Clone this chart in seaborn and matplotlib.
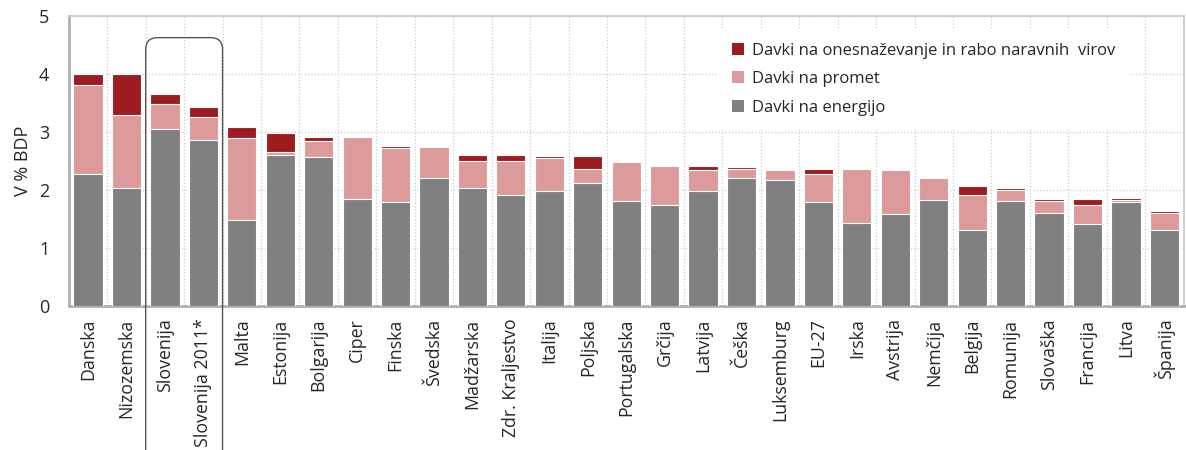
import numpy as np
import pandas as pd
import matplotlib.pyplot as plt
import seaborn as sns
from matplotlib.patches import FancyBboxPatch, Patch
from matplotlib.transforms import IdentityTransform

# data (% of GDP)
countries = ['Danska', 'Nizozemska', 'Slovenija', 'Slovenija 2011*', 'Malta', 'Estonija',
             'Bolgarija', 'Ciper', 'Finska', 'Švedska', 'Madžarska', 'Zdr. Kraljestvo',
             'Italija', 'Poljska', 'Portugalska', 'Grčija', 'Latvija', 'Češka', 'Luksemburg',
             'EU-27', 'Irska', 'Avstrija', 'Nemčija', 'Belgija', 'Romunija', 'Slovaška',
             'Francija', 'Litva', 'Španija']
energija = [2.27, 2.04, 3.06, 2.86, 1.49, 2.61, 2.57, 1.84, 1.79, 2.21, 2.04, 1.91,
            1.99, 2.13, 1.82, 1.74, 1.99, 2.21, 2.18, 1.79, 1.44, 1.59, 1.83, 1.31,
            1.82, 1.61, 1.42, 1.79, 1.31]
promet = [1.54, 1.25, 0.42, 0.40, 1.41, 0.05, 0.27, 1.07, 0.93, 0.53, 0.47, 0.60,
          0.57, 0.24, 0.67, 0.68, 0.35, 0.16, 0.16, 0.48, 0.93, 0.75, 0.38, 0.61,
          0.19, 0.21, 0.32, 0.04, 0.30]
onesnazevanje = [0.20, 0.72, 0.18, 0.18, 0.18, 0.33, 0.07, 0.00, 0.04, 0.02, 0.10, 0.10,
                 0.03, 0.22, 0.00, 0.00, 0.08, 0.02, 0.03, 0.10, 0.00, 0.03, 0.00, 0.15,
                 0.03, 0.02, 0.10, 0.03, 0.03]

labels = ['Davki na onesnaževanje in rabo naravnih  virov', 'Davki na promet', 'Davki na energijo']
colors = ['#9c1c20', '#dc9a9a', '#808080']

df = pd.DataFrame({'drzava': countries, 'energija': energija,
                   'promet': promet, 'onesn': onesnazevanje})
df['s_promet'] = df['energija'] + df['promet']
df['s_total'] = df['s_promet'] + df['onesn']

sns.set_style('white')
plt.rcParams['font.family'] = ['Open Sans', 'DejaVu Sans']

fig = plt.figure(figsize=(11.86, 4.5), dpi=100)
ax = fig.add_axes([0.058, 0.32, 0.94, 0.644])

# stacked bars by overdrawing cumulative heights
for col, c in zip(['s_total', 's_promet', 'energija'], colors):
    sns.barplot(data=df, x='drzava', y=col, color=c, width=0.76,
                edgecolor='white', linewidth=0.8, saturation=1, ax=ax, zorder=3)

ax.set_xlim(-0.5, len(countries) - 0.5)
ax.set_ylim(0, 5)
ax.set_yticks([0, 1, 2, 3, 4, 5])
ax.tick_params(axis='y', labelsize=13, length=0, pad=14)
ax.tick_params(axis='x', labelsize=12.8, length=0, rotation=90, pad=9)
ax.set_xlabel('')
ax.set_ylabel('V % BDP', fontsize=13, labelpad=5)

ax.set_xticks(np.arange(len(countries)) + 0.5, minor=True)
ax.tick_params(axis='x', which='minor', length=0)
ax.grid(False)
ax.grid(True, axis='y', which='major', ls=':', color='#cccccc', lw=0.9, zorder=0)
ax.grid(True, axis='x', which='minor', ls=':', color='#cccccc', lw=0.9, zorder=0)
ax.set_axisbelow(True)

for s in ax.spines.values():
    s.set_color('#c8c8c8')
    s.set_linewidth(1.2)
ax.spines['bottom'].set_color('#b0b0b0')
ax.spines['bottom'].set_linewidth(2)
ax.spines['left'].set_color('#b0b0b0')
ax.spines['left'].set_linewidth(2)

handles = [Patch(facecolor=c, edgecolor='none') for c in colors]
leg = ax.legend(handles, labels, loc='upper right', bbox_to_anchor=(0.951, 0.955),
                borderaxespad=0, frameon=True, facecolor='white', edgecolor='white',
                framealpha=1, fontsize=12, handlelength=0.75, handleheight=0.75,
                handletextpad=0.5, labelspacing=0.75, borderpad=0.8, fancybox=False)
leg.set_zorder(5)

# rounded box around the two Slovenia bars
fig.canvas.draw()
x0, y0 = ax.transData.transform((1.5, 4.63))
x1, _ = ax.transData.transform((3.5, 4.63))
box = FancyBboxPatch((x0, -20), x1 - x0, y0 + 20,
                     boxstyle='round,pad=0,rounding_size=12',
                     transform=IdentityTransform(), fill=False,
                     edgecolor='#555555', linewidth=1.0, clip_on=False, zorder=10)
fig.add_artist(box)

fig.savefig('out.png', dpi=100)
